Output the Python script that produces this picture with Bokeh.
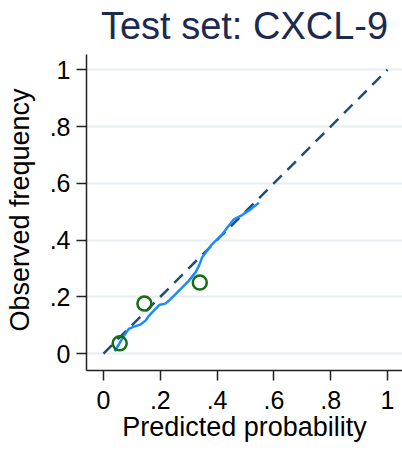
from bokeh.plotting import figure
from bokeh.models import Range1d, FixedTicker
from bokeh.embed import file_html
from bokeh.resources import INLINE

# Calibration data: lowess smoother and grouped observed frequencies
lowess_pred = [0.039, 0.054, 0.072, 0.089, 0.107, 0.130, 0.148, 0.160, 0.177, 0.198,
               0.216, 0.230, 0.265, 0.300, 0.324, 0.336, 0.347, 0.382, 0.418, 0.441,
               0.459, 0.488, 0.518, 0.547]
lowess_obs = [0.008, 0.032, 0.063, 0.087, 0.095, 0.102, 0.116, 0.133, 0.151, 0.172,
              0.175, 0.186, 0.221, 0.256, 0.286, 0.309, 0.338, 0.385, 0.420, 0.450,
              0.473, 0.488, 0.508, 0.531]
group_pred = [0.057, 0.144, 0.339]
group_obs = [0.036, 0.176, 0.250]
ref_line = [0, 1]
tick_vals = [0, 0.2, 0.4, 0.6, 0.8, 1]
tick_text = ["0", ".2", ".4", ".6", ".8", "1"]

FONT = "Liberation Sans"

p = figure(width=402, height=452, output_backend="svg", toolbar_location=None,
           x_range=Range1d(-0.0599, 1.0528), y_range=Range1d(-0.0597, 1.0713),
           min_border_left=86, min_border_right=0, min_border_top=48,
           min_border_bottom=82, title="Test set: CXCL-9")
p.outline_line_color = None
p.background_fill_color = "white"
p.border_fill_color = "white"

p.title.align = "center"
p.title.text_font = FONT
p.title.text_font_size = "38px"
p.title.text_font_style = "normal"
p.title.text_color = "#1c2a4f"
p.title.standoff = 5

# 45-degree reference line
p.line(ref_line, ref_line, line_color="#1f4e79", line_width=2.5, line_dash="12 8")
# lowess smoother
p.line(lowess_pred, lowess_obs, line_color="#1a8cff", line_width=2.5)
# grouped observations
p.scatter(group_pred, group_obs, size=14, marker="circle", fill_color=None,
          line_color="#146e14", line_width=2.5)

labels = dict(zip(tick_vals, tick_text))
for ax in (p.xaxis[0], p.yaxis[0]):
    ax.ticker = FixedTicker(ticks=tick_vals)
    ax.major_label_overrides = labels
    ax.minor_tick_line_color = None
    ax.major_tick_in = 0
    ax.major_tick_out = 10
    ax.major_tick_line_width = 1.5
    ax.major_tick_line_color = "#222222"
    ax.axis_line_color = "#222222"
    ax.axis_line_width = 1.5
    ax.major_label_text_font = FONT
    ax.major_label_text_font_size = "25px"
    ax.major_label_text_color = "black"
    ax.axis_label_text_font = FONT
    ax.axis_label_text_font_size = "27px"
    ax.axis_label_text_font_style = "normal"
    ax.axis_label_text_color = "black"

p.xaxis.axis_label = "Predicted probability"
p.yaxis.axis_label = "Observed frequency"
p.yaxis.bounds = (-0.0597, 1.054)
p.xaxis.major_label_standoff = 10
p.xaxis.axis_label_standoff = 0
p.yaxis.major_label_standoff = 6
p.yaxis.axis_label_standoff = 12
p.yaxis.major_label_orientation = "horizontal"

p.xgrid.grid_line_color = None
p.ygrid.ticker = FixedTicker(ticks=tick_vals)
p.ygrid.grid_line_color = "#e6eef1"
p.ygrid.grid_line_width = 2

open("out.html", "w").write(file_html(p, INLINE))
